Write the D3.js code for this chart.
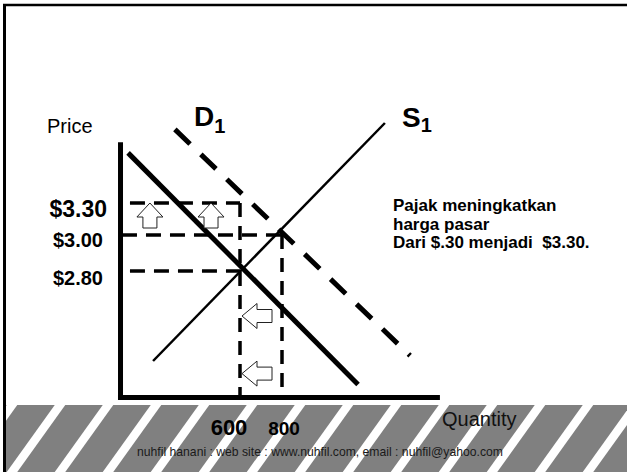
<!DOCTYPE html>
<html>
<head>
<meta charset="utf-8">
<script src="https://cdn.jsdelivr.net/npm/d3@7/dist/d3.min.js"></script>
<style>
  html, body { margin: 0; padding: 0; background: #fff; }
  svg { display: block; }
  text { font-family: "Liberation Sans", Arial, Helvetica, sans-serif; }
</style>
</head>
<body>
<script>
// ---------------- data ----------------
const priceTicks  = [3.30, 3.00, 2.80];
const priceLabels = ["$3.30", "$3.00", "$2.80"];
const qtyTicks    = [600, 800];
const qtyLabels   = ["600", "800"];

// [quantity, price] end points of each curve
const demand        = [[67, 3.77], [1162, 2.17]];   // solid D
const demandShifted = [[290, 3.99], [1410, 2.33]];  // dashed D1
const supply        = [[186, 2.30], [1290, 4.05]];  // S1

// guide lines: horizontal {p, q0, q1}, vertical {q, p0, p1}
const hGuides = [
  { p: 3.30, q0: 76, q1: 600 },
  { p: 3.00, q0: 38, q1: 800 },
  { p: 2.80, q0: 76, q1: 600 }
];
const vGuides = [
  { q: 600, p0: 3.30, p1: 2.10 },
  { q: 800, p0: 3.00, p1: 2.10 }
];

// arrows: up arrows (tip at price) and left arrows (tip at quantity)
const upArrows   = [{ q: 171, p: 3.30 }, { q: 462, p: 3.30 }];
const leftArrows = [{ q: 600, p: 2.55 }, { q: 600, p: 2.23 }];

const annotation = ["Pajak meningkatkan", "harga pasar", "Dari $.30 menjadi  $3.30."];
const footer = "nuhfil hanani : web site : www.nuhfil.com, email : nuhfil@yahoo.com";

// axis extents
const axisQ = [19, 1552];
const axisP = [2.097, 3.87];
const axisQpos = 31;     // quantity where the price axis stands

// ---------------- drawing ----------------
const W = 627, H = 472;
const svg = d3.select("body").append("svg").attr("width", W).attr("height", H);

const x = d3.scaleLinear().domain([0, 1000]).range([114, 324]);
const y = d3.scaleLinear().domain([2.80, 3.00, 3.30]).range([271, 235, 203]);

// frame
svg.append("line").attr("x1", 3).attr("x2", W).attr("y1", 5).attr("y2", 5)
  .attr("stroke", "#000").attr("stroke-width", 2.5);
svg.append("line").attr("x1", 4.5).attr("x2", 4.5).attr("y1", 4).attr("y2", H)
  .attr("stroke", "#000").attr("stroke-width", 3);

// striped band
const bandTop = 405, bandLeft = 6;
svg.append("clipPath").attr("id", "bandClip")
  .append("rect").attr("x", bandLeft).attr("y", bandTop).attr("width", W - bandLeft).attr("height", H - bandTop);
const band = svg.append("g").attr("clip-path", "url(#bandClip)");
band.append("rect").attr("x", bandLeft).attr("y", bandTop).attr("width", W - bandLeft).attr("height", H - bandTop)
  .attr("fill", "#808080");
const period = 48, sw = 10.5;
band.selectAll("polygon.stripe").data(d3.range(-1, 14)).join("polygon")
  .attr("class", "stripe")
  .attr("fill", "#fff")
  .attr("points", k => {
    const t = 60 + period * k, b = 12 + period * k;
    return [[t - sw/2, bandTop], [t + sw/2, bandTop], [b + sw/2, H], [b - sw/2, H]].map(p => p.join(",")).join(" ");
  });

const line = d3.line().x(d => x(d[0])).y(d => y(d[1]));

// guide lines
svg.selectAll("line.hg").data(hGuides).join("line").attr("class", "hg")
  .attr("x1", d => x(d.q0)).attr("x2", d => x(d.q1))
  .attr("y1", d => y(d.p)).attr("y2", d => y(d.p))
  .attr("stroke", "#000").attr("stroke-width", 3.3).attr("stroke-dasharray", "15,9");
svg.selectAll("line.vg").data(vGuides).join("line").attr("class", "vg")
  .attr("x1", d => x(d.q)).attr("x2", d => x(d.q))
  .attr("y1", d => y(d.p0)).attr("y2", d => y(d.p1))
  .attr("stroke", "#000").attr("stroke-width", 3.5).attr("stroke-dasharray", "14,9");

// curves
svg.append("path").attr("d", line(supply)).attr("fill", "none")
  .attr("stroke", "#000").attr("stroke-width", 2.5);
svg.append("path").attr("d", line(demand)).attr("fill", "none")
  .attr("stroke", "#000").attr("stroke-width", 5);
svg.append("path").attr("d", line(demandShifted)).attr("fill", "none")
  .attr("stroke", "#000").attr("stroke-width", 5).attr("stroke-dasharray", "21,15");

// axes
svg.append("line").attr("x1", x(axisQpos)).attr("x2", x(axisQpos))
  .attr("y1", y(axisP[1])).attr("y2", y(axisP[0]) + 2.5)
  .attr("stroke", "#000").attr("stroke-width", 5);
svg.append("line").attr("x1", x(axisQ[0])).attr("x2", x(axisQ[1]))
  .attr("y1", y(axisP[0])).attr("y2", y(axisP[0]))
  .attr("stroke", "#000").attr("stroke-width", 5);

// arrows
const upShape = [[0,0],[13,14],[7,14],[7,25],[-7,25],[-7,14],[-13,14]];
const leftShape = [[0,0],[15,-12.5],[15,-6.5],[30,-6.5],[30,6.5],[15,6.5],[15,12.5]];
svg.selectAll("polygon.up").data(upArrows).join("polygon").attr("class", "up")
  .attr("points", d => upShape.map(p => [x(d.q) + p[0], y(d.p) + p[1]].join(",")).join(" "))
  .attr("fill", "#fff").attr("stroke", "#222").attr("stroke-width", 1);
svg.selectAll("polygon.left").data(leftArrows).join("polygon").attr("class", "left")
  .attr("points", d => leftShape.map(p => [x(d.q) + 2 + p[0], y(d.p) + p[1]].join(",")).join(" "))
  .attr("fill", "#fff").attr("stroke", "#222").attr("stroke-width", 1);

// price labels
const priceSizes = [23, 20, 20];
const priceRight = [107, 103, 103];
svg.selectAll("text.pl").data(priceTicks).join("text").attr("class", "pl")
  .attr("x", (d, i) => priceRight[i]).attr("y", (d, i) => y(d) + (i === 1 ? 12 : 14))
  .attr("text-anchor", "end").attr("font-weight", "bold")
  .attr("font-size", (d, i) => priceSizes[i])
  .text((d, i) => priceLabels[i]);

// quantity labels
const qtySizes = [22, 19];
const qtyDx = [-11, 2];
svg.selectAll("text.ql").data(qtyTicks).join("text").attr("class", "ql")
  .attr("x", (d, i) => x(d) + qtyDx[i]).attr("y", 435)
  .attr("text-anchor", "middle").attr("font-weight", "bold")
  .attr("font-size", (d, i) => qtySizes[i])
  .text((d, i) => qtyLabels[i]);

// axis titles
svg.append("text").attr("x", 47).attr("y", 133).attr("font-size", 20).text("Price");
svg.append("text").attr("x", 442).attr("y", 426).attr("font-size", 20).attr("fill", "#111").text("Quantity");

// curve labels
const d1 = svg.append("text").attr("x", 194).attr("y", 126).attr("font-weight", "bold");
d1.append("tspan").attr("font-size", 28).text("D");
d1.append("tspan").attr("font-size", 20).attr("dy", 7).text("1");
const s1 = svg.append("text").attr("x", 402).attr("y", 127).attr("font-weight", "bold");
s1.append("tspan").attr("font-size", 28).text("S");
s1.append("tspan").attr("font-size", 20).attr("dy", 5).text("1");

// annotation
svg.selectAll("text.ann").data(annotation).join("text").attr("class", "ann")
  .attr("x", 393).attr("y", (d, i) => 211 + i * 18.5)
  .attr("font-size", 17).attr("font-weight", "bold")
  .style("white-space", "pre")
  .text(d => d);

// footer
svg.append("text").attr("x", 137).attr("y", 456).attr("font-size", 12.2).attr("fill", "#1a1a1a").text(footer);
</script>
</body>
</html>
